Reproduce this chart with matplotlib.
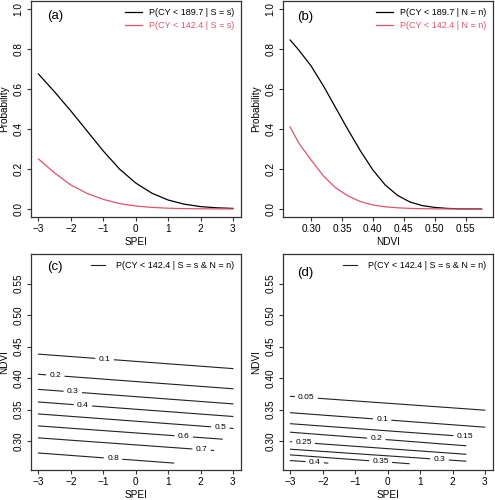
import numpy as np
import matplotlib
matplotlib.use('Agg')
import matplotlib.pyplot as plt

plt.rcParams['font.family'] = ['Liberation Sans', 'DejaVu Sans']

# (a) probability vs SPEI
spei_pts = [-3, -2.5, -2, -1.5, -1, -0.5, 0, 0.5, 1, 1.5, 2, 2.5, 3]
p_a_high = [0.675, 0.585, 0.49, 0.39, 0.29, 0.20, 0.13, 0.079, 0.045, 0.024, 0.012, 0.006, 0.003]
p_a_low = [0.25, 0.18, 0.12, 0.078, 0.048, 0.027, 0.015, 0.008, 0.004, 0.002, 0.001, 0.0005, 0.0002]

# (b) probability vs NDVI
ndvi_pts = [0.266, 0.28, 0.30, 0.32, 0.34, 0.36, 0.38, 0.40, 0.42, 0.44, 0.46, 0.48,
            0.50, 0.52, 0.54, 0.56, 0.576]
p_b_high = [0.845, 0.795, 0.715, 0.615, 0.505, 0.395, 0.29, 0.195, 0.12, 0.068, 0.035, 0.017,
            0.008, 0.003, 0.001, 0.0004, 0.0002]
p_b_low = [0.41, 0.33, 0.245, 0.165, 0.105, 0.065, 0.037, 0.02, 0.011, 0.006, 0.003, 0.0015,
           0.0007, 0.0003, 0.0001, 0.0, 0.0]

# (c) contour lines: level, NDVI at SPEI=-3, end SPEI, NDVI at end, label SPEI
levels_c = [0.1, 0.2, 0.3, 0.4, 0.5, 0.6, 0.7, 0.8]
c_ndvi_start = [0.438, 0.406, 0.382, 0.362, 0.343, 0.324, 0.305, 0.281]
c_spei_end = [3, 3, 3, 3, 3, 2.67, 2.4, 1.17]
c_ndvi_end = [0.415, 0.383, 0.359, 0.339, 0.320, 0.303, 0.285, 0.265]
c_label_x = [-0.96, -2.48, -1.94, -1.63, 2.61, 1.48, 2.03, -0.70]

# (d)
levels_d = [0.05, 0.1, 0.15, 0.2, 0.25, 0.3, 0.35, 0.4]
d_ndvi_start = [0.371, 0.345, 0.3275, 0.314, 0.299, 0.287, 0.278, 0.269]
d_spei_end = [3, 3, 2.7, 2.41, 2.41, 2.41, 0.66, -1.85]
d_ndvi_end = [0.349, 0.322, 0.306, 0.2925, 0.279, 0.268, 0.264, 0.265]
d_label_x = [-2.51, -0.17, 2.38, -0.35, -2.6, 1.6, -0.22, -2.25]

red = '#DF536B'
fs = 7.2

fig = plt.figure(figsize=(4.95, 5.0), dpi=100)
w, h = 210 / 495, 216 / 500
ax_a = fig.add_axes([30.7 / 495, 1 - 217 / 500, w, h])
ax_b = fig.add_axes([282.7 / 495, 1 - 217 / 500, w, h])
ax_c = fig.add_axes([30.7 / 495, 1 - 470 / 500, w, h])
ax_d = fig.add_axes([282.7 / 495, 1 - 470 / 500, w, h])


def style(ax):
    for s in ax.spines.values():
        s.set_linewidth(0.9)
        s.set_color('#333333')
    ax.tick_params(direction='out', length=2.6, width=0.8, color='#333333',
                   labelsize=fs, pad=2.5)
    plt.setp(ax.get_yticklabels(), rotation=90, va='center')
    ax.yaxis.set_label_coords(-0.125, 0.5)
    ax.yaxis.label.set_va('center')
    ax.xaxis.set_label_coords(0.5, -0.118)
    ax.xaxis.label.set_va('center')


ax_a.plot(spei_pts, p_a_high, color='black', lw=0.9, label='P(CY < 189.7 | S = s)')
ax_a.plot(spei_pts, p_a_low, color=red, lw=0.9, label='P(CY < 142.4 | S = s)')
ax_a.set_xlim(-3.24, 3.24)
ax_a.set_ylim(-0.04, 1.04)
ax_a.set_xticks(range(-3, 4))
ax_a.set_yticks(np.arange(0, 1.01, 0.2))
ax_a.set_yticklabels(['%.1f' % v for v in np.arange(0, 1.01, 0.2)])
ax_a.set_xlabel('SPEI', fontsize=fs)
ax_a.set_ylabel('Probability', fontsize=fs)

ax_b.plot(ndvi_pts, p_b_high, color='black', lw=0.9, label='P(CY < 189.7 | N = n)')
ax_b.plot(ndvi_pts, p_b_low, color=red, lw=0.9, label='P(CY < 142.4 | N = n)')
ax_b.set_xlim(0.254, 0.594)
ax_b.set_ylim(-0.04, 1.04)
nd_ticks = [0.30, 0.35, 0.40, 0.45, 0.50, 0.55]
ax_b.set_xticks(nd_ticks)
ax_b.set_xticklabels(['%.2f' % v for v in nd_ticks])
ax_b.set_yticks(np.arange(0, 1.01, 0.2))
ax_b.set_yticklabels(['%.1f' % v for v in np.arange(0, 1.01, 0.2)])
ax_b.set_xlabel('NDVI', fontsize=fs)
ax_b.set_ylabel('Probability', fontsize=fs)

for ax in (ax_a, ax_b):
    ax.legend(loc='upper right', frameon=False, fontsize=6.5, handlelength=1.9,
              handletextpad=0.7, labelspacing=0.45, borderaxespad=0.35,
              labelcolor=['black', red])


def contour_panel(ax, levels, y0, x1, y1, lab_x):
    for lev, ya, xb, yb, xl in zip(levels, y0, x1, y1, lab_x):
        slope = (yb - ya) / (xb + 3)
        yl = ya + slope * (xl + 3)
        txt = ('%g' % lev)
        half = (len(txt) * 4.5 / 2 + 3) / 32.4
        xs1 = [-3, xl - half]
        xs2 = [min(xl + half, xb), xb]
        ax.plot(xs1, [ya + slope * (x + 3) for x in xs1], color='#222222', lw=0.8)
        ax.plot(xs2, [ya + slope * (x + 3) for x in xs2], color='#222222', lw=0.8)
        ax.text(xl, yl, txt, fontsize=6, ha='center', va='center')
    ax.plot([], [], color='#222222', lw=0.8, label='P(CY < 142.4 | S = s & N = n)')
    ax.set_xlim(-3.24, 3.24)
    ax.set_ylim(0.254, 0.597)
    ax.set_xticks(range(-3, 4))
    ax.set_yticks(nd_ticks)
    ax.set_yticklabels(['%.2f' % v for v in nd_ticks])
    ax.set_xlabel('SPEI', fontsize=fs)
    ax.set_ylabel('NDVI', fontsize=fs)
    ax.legend(loc='upper right', frameon=False, fontsize=6.5, handlelength=1.6,
              handletextpad=1.2, borderaxespad=0.35)


contour_panel(ax_c, levels_c, c_ndvi_start, c_spei_end, c_ndvi_end, c_label_x)
contour_panel(ax_d, levels_d, d_ndvi_start, d_spei_end, d_ndvi_end, d_label_x)

for ax in (ax_a, ax_b, ax_c, ax_d):
    style(ax)

ax_a.text(0.116, 0.93, '(a)', transform=ax_a.transAxes, fontsize=9.5, ha='center', va='center')
ax_b.text(0.106, 0.927, '(b)', transform=ax_b.transAxes, fontsize=9.5, ha='center', va='center')
ax_c.text(0.116, 0.941, '(c)', transform=ax_c.transAxes, fontsize=9.5, ha='center', va='center')
ax_d.text(0.106, 0.913, '(d)', transform=ax_d.transAxes, fontsize=9.5, ha='center', va='center')

fig.savefig('out.png', dpi=100)
